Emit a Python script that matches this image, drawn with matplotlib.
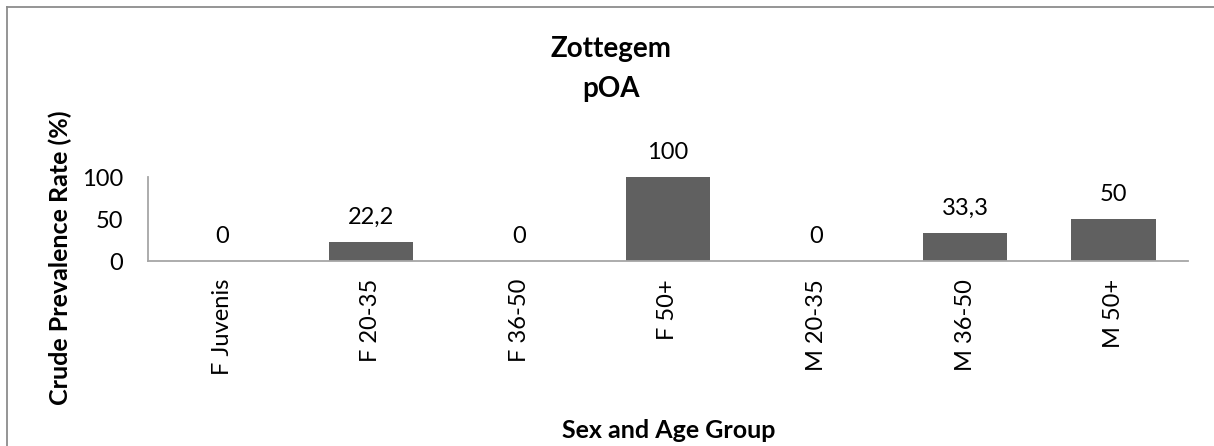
import matplotlib.pyplot as plt
from matplotlib.lines import Line2D

# Date
categorii = ['F Juvenis', 'F 20-35', 'F 36-50', 'F 50+', 'M 20-35', 'M 36-50', 'M 50+']
valori = [0, 22.2, 0, 100, 0, 33.3, 50]
etichete = ['0', '22,2', '0', '100', '0', '33,3', '50']

plt.rcParams['font.family'] = ['Lato', 'DejaVu Sans']

W, H = 1214, 446
fig = plt.figure(figsize=(W / 100, H / 100), dpi=100)
ax = fig.add_axes([148 / W, 1 - 261 / H, (1188 - 148) / W, (261 - 177) / H])

x = range(len(categorii))
ax.bar(x, valori, width=0.57, color='#606060', zorder=2)
for xi, v, t in zip(x, valori, etichete):
    ax.annotate(t, (xi, v), xytext=(0, 13), textcoords='offset points',
                ha='center', va='baseline', fontsize=17)

ax.set_xlim(-0.5, len(categorii) - 0.5)
ax.set_ylim(0, 100)
ax.set_yticks([0, 50, 100])
ax.set_xticks(list(x))
ax.set_xticklabels(categorii, rotation=90, fontsize=17)
ax.tick_params(axis='y', labelsize=17, length=0, pad=18)
ax.tick_params(axis='x', length=0, pad=13)

for s in ['top', 'right']:
    ax.spines[s].set_visible(False)
for s in ['left', 'bottom']:
    ax.spines[s].set_color('#a6a6a6')
    ax.spines[s].set_linewidth(1.3)

# titlul pe doua randuri, cu spatiere ca in original
fig.text(611 / W, 1 - 57 / H, 'Zottegem', ha='center', va='baseline', fontsize=20, fontweight='bold')
fig.text(611 / W, 1 - 97 / H, 'pOA', ha='center', va='baseline', fontsize=20, fontweight='bold')
fig.text(669 / W, 1 - 431 / H, 'Sex and Age Group', ha='center', va='center', fontsize=18, fontweight='bold')
fig.text(60 / W, 1 - 258 / H, 'Crude Prevalence Rate (%)', ha='center', va='center',
         rotation=90, fontsize=18, fontweight='bold')

# chenarul graficului (doar sus si stanga sunt vizibile)
fig.add_artist(Line2D([7 / W, 1], [1 - 6.5 / H, 1 - 6.5 / H], color='#8c8c8c', lw=1.3))
fig.add_artist(Line2D([7 / W, 7 / W], [0, 1 - 6.5 / H], color='#8c8c8c', lw=1.3))

fig.savefig('out.png', dpi=100)
